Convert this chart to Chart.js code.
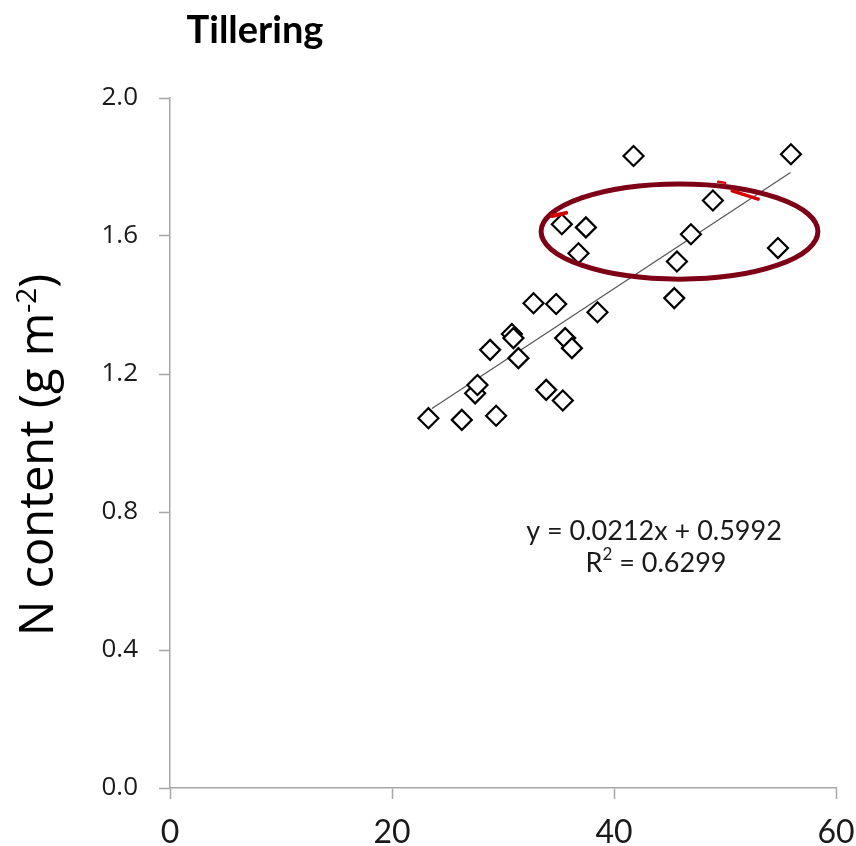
<!DOCTYPE html>
<html>
<head>
<meta charset="utf-8">
<script src="https://cdn.jsdelivr.net/npm/chart.js@4"></script>
<style>
  html, body { margin: 0; padding: 0; background: #fff; }
  #wrap { width: 856px; height: 846px; }
</style>
</head>
<body>
<div id="wrap"><canvas id="scatter" width="856" height="846"></canvas></div>
<script>
// values
var biomass = [23.28, 26.29, 27.49, 27.70, 28.84, 29.38, 30.80, 30.94, 31.39, 32.75, 33.89, 34.79, 35.30,
               35.39, 35.60, 36.21, 36.80, 37.47, 38.51, 41.76, 45.43, 45.67, 46.93, 48.91, 54.77, 55.94];
var nContent = [1.072, 1.067, 1.144, 1.168, 1.270, 1.079, 1.316, 1.304, 1.246, 1.405, 1.154, 1.403, 1.634,
                1.123, 1.304, 1.275, 1.550, 1.625, 1.379, 1.832, 1.420, 1.526, 1.605, 1.703, 1.565, 1.837];

// linear trend line ends
var trendX = [23.6, 55.9];
var trendY = [1.100, 1.784];

var xTicks = [0, 20, 40, 60];
var yTicks = [0.0, 0.4, 0.8, 1.2, 1.6, 2.0];

var chartTitle = "Tillering";
var eqText = "y = 0.0212x + 0.5992";
var r2Text = "0.6299";

// red ring drawn around the upper group (data units)
var ring = { cx: 45.9, cy: 1.613, rx: 12.47, ry: 0.138 };
// small bright red pen marks on the ring
var markA_x = [34.43, 35.69], markA_y = [1.658, 1.667];
var markB_x = [49.39, 50.02], markB_y = [1.757, 1.754];
var markC_x = [50.65, 52.99], markC_y = [1.731, 1.707];

var pts = biomass.map(function (x, i) { return { x: x, y: nContent[i] }; });
var trend = trendX.map(function (x, i) { return { x: x, y: trendY[i] }; });

var axisGrey = '#a6a6a6';

var extras = {
  id: 'extras',
  afterDatasetsDraw: function (chart) {
    var ctx = chart.ctx;
    var xs = chart.scales.x, ys = chart.scales.y;
    ctx.save();

    // ring
    var cx = xs.getPixelForValue(ring.cx), cy = ys.getPixelForValue(ring.cy);
    var rx = xs.getPixelForValue(ring.cx + ring.rx) - cx;
    var ry = cy - ys.getPixelForValue(ring.cy + ring.ry);
    ctx.beginPath();
    ctx.ellipse(cx, cy, rx, ry, 0, 0, Math.PI * 2);
    ctx.strokeStyle = '#7d0017';
    ctx.lineWidth = 5;
    ctx.stroke();

    function mark(mx, my, w) {
      ctx.beginPath();
      ctx.moveTo(xs.getPixelForValue(mx[0]), ys.getPixelForValue(my[0]));
      ctx.lineTo(xs.getPixelForValue(mx[1]), ys.getPixelForValue(my[1]));
      ctx.strokeStyle = '#d40000';
      ctx.lineWidth = w;
      ctx.lineCap = 'round';
      ctx.stroke();
    }
    mark(markA_x, markA_y, 4);
    mark(markB_x, markB_y, 2.5);
    mark(markC_x, markC_y, 3.5);

    // title
    ctx.fillStyle = '#000';
    ctx.font = 'bold 38px Lato, sans-serif';
    ctx.textAlign = 'center';
    ctx.textBaseline = 'alphabetic';
    ctx.fillText(chartTitle, 255, 43);

    // equation
    ctx.fillStyle = '#1a1a1a';
    ctx.font = '27px Lato, sans-serif';
    ctx.textBaseline = 'middle';
    ctx.fillText(eqText, 654, 531);
    // R² line
    var p1 = 'R', p2 = '2', p3 = ' = ' + r2Text;
    ctx.font = '27px Lato, sans-serif';
    var w1 = ctx.measureText(p1).width, w3 = ctx.measureText(p3).width;
    ctx.font = '17px Lato, sans-serif';
    var w2 = ctx.measureText(p2).width;
    var sx = 656 - (w1 + w2 + w3) / 2;
    ctx.textAlign = 'left';
    ctx.font = '27px Lato, sans-serif';
    ctx.fillText(p1, sx, 563);
    ctx.font = '17px Lato, sans-serif';
    ctx.fillText(p2, sx + w1, 555);
    ctx.font = '27px Lato, sans-serif';
    ctx.fillText(p3, sx + w1 + w2, 563);

    // y axis title, rotated
    ctx.translate(53, 455);
    ctx.rotate(-Math.PI / 2);
    ctx.fillStyle = '#000';
    ctx.textBaseline = 'alphabetic';
    var a = 'N content (g m', b = '-2', c = ')';
    ctx.font = '47px "Open Sans", sans-serif';
    var wa = ctx.measureText(a).width, wc = ctx.measureText(c).width;
    ctx.font = '28px "Open Sans", sans-serif';
    var wb = ctx.measureText(b).width;
    var s = -(wa + wb + wc) / 2;
    ctx.font = '47px "Open Sans", sans-serif';
    ctx.fillText(a, s, 0);
    ctx.font = '28px "Open Sans", sans-serif';
    ctx.fillText(b, s + wa, -17);
    ctx.font = '47px "Open Sans", sans-serif';
    ctx.fillText(c, s + wa + wb, 0);

    ctx.restore();
  }
};

var ctx = document.getElementById('scatter').getContext('2d');
var chart = new Chart(ctx, {
  type: 'scatter',
  data: {
    datasets: [{
      label: 'N content',
      data: pts,
      pointStyle: 'rectRot',
      pointRadius: 10,
      pointHoverRadius: 10,
      borderColor: '#000',
      backgroundColor: '#fff',
      borderWidth: 2.2
    }, {
      label: 'Linear',
      data: trend,
      showLine: true,
      pointRadius: 0,
      borderColor: '#555',
      borderWidth: 1.2
    }]
  },
  options: {
    responsive: false,
    animation: false,
    events: [],
    layout: { padding: { top: 98, right: 20, left: 0, bottom: 0 } },
    plugins: { legend: { display: false }, tooltip: { enabled: false }, title: { display: false } },
    scales: {
      x: {
        type: 'linear',
        min: 0, max: 60,
        afterBuildTicks: function (s) { s.ticks = xTicks.map(function (v) { return { value: v }; }); },
        afterFit: function (s) { s.height = 58; s.paddingLeft = 0; s.paddingRight = 0; },
        grid: { drawOnChartArea: false, drawTicks: true, tickLength: 11, tickColor: axisGrey, tickWidth: 1.5 },
        border: { color: axisGrey, width: 1.5 },
        ticks: {
          padding: 14,
          color: '#1a1a1a',
          font: { family: 'Lato, sans-serif', size: 32 },
          callback: function (v) { return v; }
        }
      },
      y: {
        type: 'linear',
        min: 0, max: 2,
        afterBuildTicks: function (s) { s.ticks = yTicks.map(function (v) { return { value: v }; }); },
        afterFit: function (s) { s.width = 170; s.paddingTop = 0; s.paddingBottom = 0; },
        grid: { drawOnChartArea: false, drawTicks: true, tickLength: 11, tickColor: axisGrey, tickWidth: 1.5 },
        border: { color: axisGrey, width: 1.5 },
        ticks: {
          padding: 21,
          color: '#1a1a1a',
          font: { family: '"Open Sans", sans-serif', size: 26 },
          callback: function (v) { return v.toFixed(1); }
        }
      }
    }
  },
  plugins: [extras]
});
</script>
</body>
</html>
